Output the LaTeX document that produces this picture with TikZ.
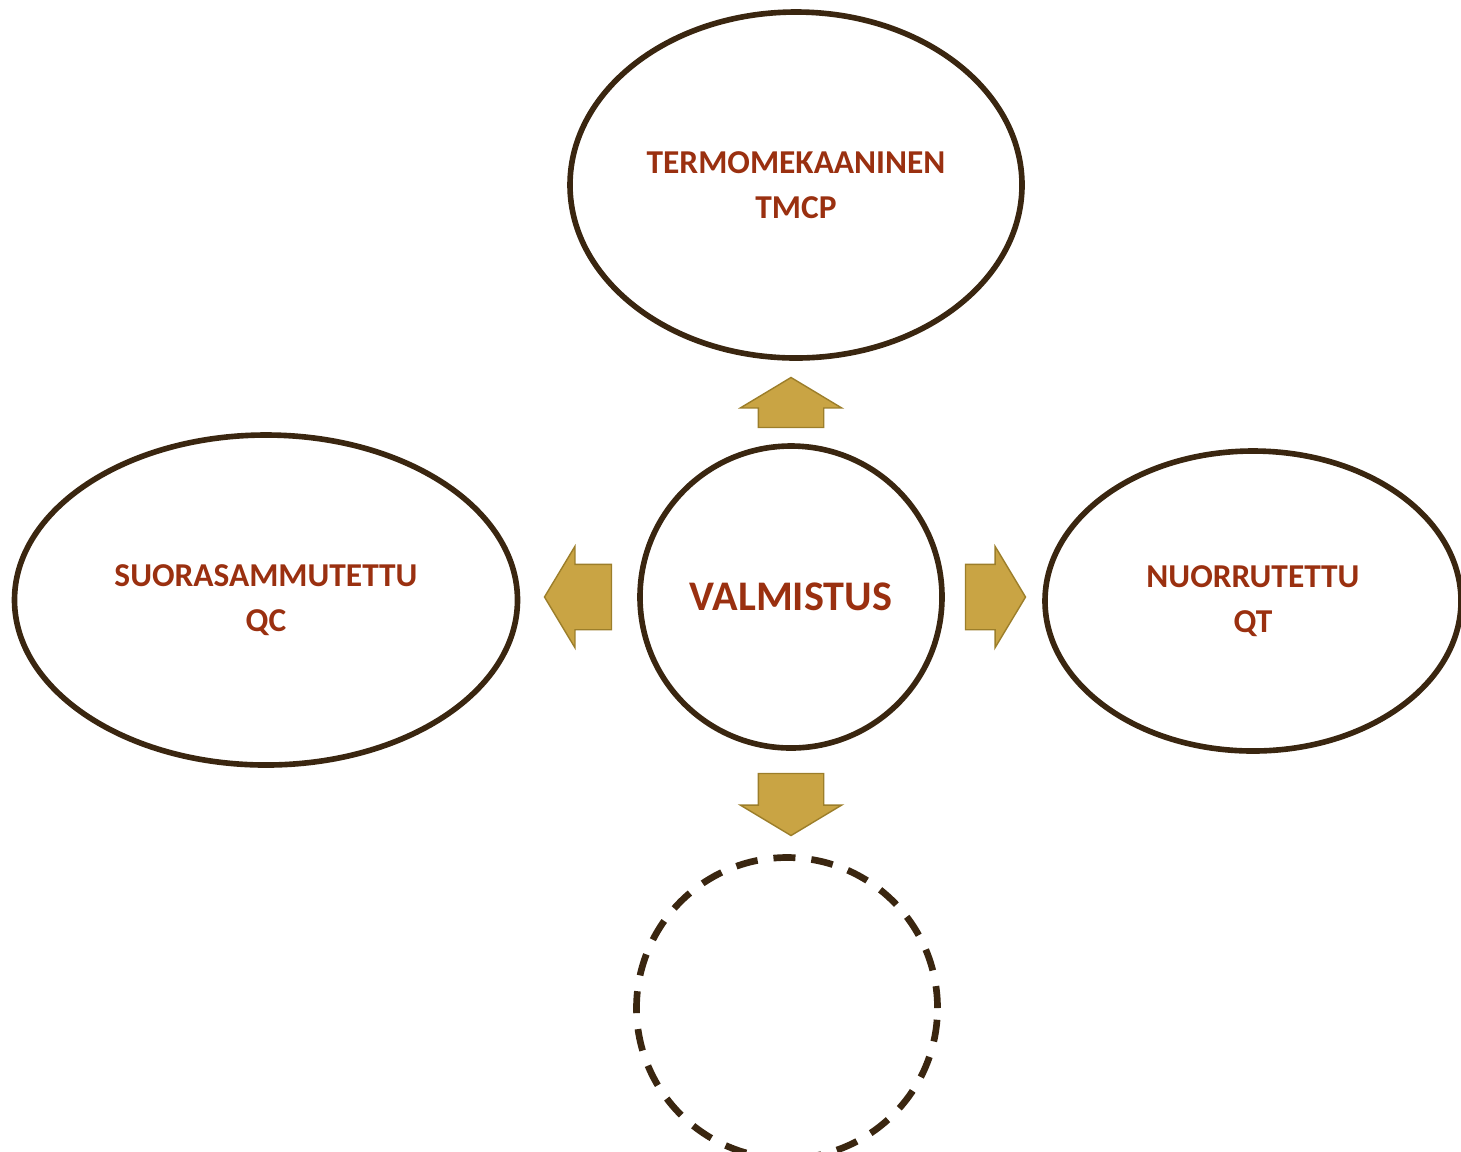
\documentclass[tikz,border=0pt]{standalone}
\usepackage{fontspec}
\setmainfont{Carlito}
\usetikzlibrary{shapes.geometric, shapes.arrows, calc}
\definecolor{rimbrown}{HTML}{3A2610}
\definecolor{txtred}  {HTML}{9A3010}
\definecolor{goldarr} {HTML}{C9A444}
\definecolor{golddark}{HTML}{9C7E2A}

\begin{document}
\begin{tikzpicture}[
    every node/.style={font=\bfseries, text=txtred},
    oval/.style={
        draw=rimbrown, ellipse, line width=1.6pt,
        inner sep=0pt, align=center,
        font=\bfseries\fontsize{9.5}{12.8}\selectfont
    },
    blockarrow/.style={
        single arrow, draw=golddark, fill=goldarr, anchor=tail,
        inner xsep=0pt, inner ysep=0.32cm,
        single arrow head extend=0.18cm,
        single arrow tip angle=118, line width=0.4pt
    }
]
\useasboundingbox (0,0) rectangle (14.61,-11.51);

% === CENTRE ===
\node[oval, minimum width=3.02cm, minimum height=3.02cm,
      font=\bfseries\fontsize{12}{14}\selectfont]
    (valm) at (7.91,-5.97) {VALMISTUS};

% === OUTER OVALS ===
\node[oval, minimum width=4.52cm, minimum height=3.46cm]
    (termo) at (7.96,-1.85) {TERMOMEKAANINEN\\TMCP};

\node[oval, minimum width=5.03cm, minimum height=3.30cm]
    (suora) at (2.66,-6.00) {SUORASAMMUTETTU\\QC};

\node[oval, minimum width=4.16cm, minimum height=3.00cm]
    (nuor) at (12.53,-6.01) {NUORRUTETTU\\QT};

\node[oval, dashed, dash pattern=on 0.22cm off 0.16cm,
      line width=1.9pt, minimum width=3.01cm, minimum height=3.01cm]
    (empty) at (7.87,-10.08) {};

% ── BLOCK ARROWS ───────────────────────────────────────────────
\node[blockarrow, rotate=90, minimum height=0.5cm]
    (aup) at ([yshift=0.15cm]valm.north) {};
\node[blockarrow, rotate=180, minimum height=0.67cm]
    (aleft) at ([xshift=-0.25cm]valm.west) {};
\node[blockarrow, minimum height=0.6cm]
    (aright) at ([xshift=0.2cm]valm.east) {};
\node[blockarrow, rotate=270, minimum height=0.62cm]
    (adown) at ([yshift=-0.22cm]valm.south) {};

\end{tikzpicture}
\end{document}
